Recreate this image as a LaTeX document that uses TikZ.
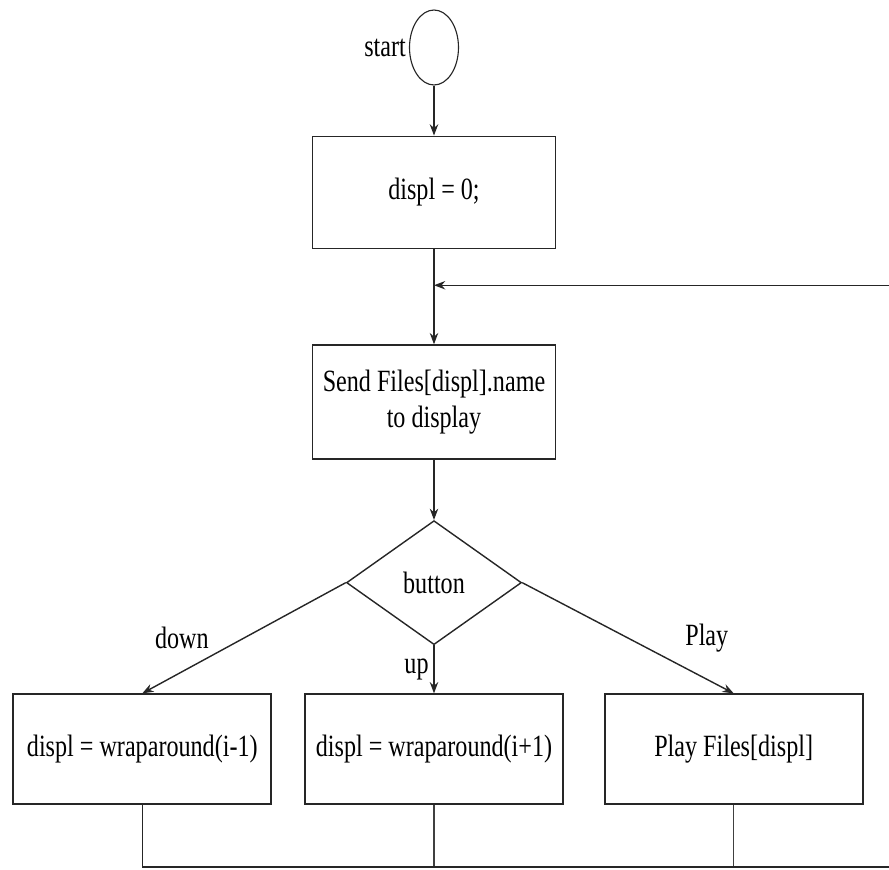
\documentclass[tikz,border=0pt]{standalone}
\usepackage{fontspec}
\setmainfont{Liberation Serif}[FakeStretch=0.78]
\usetikzlibrary{arrows.meta,positioning,shapes.geometric}

\begin{document}
\begin{tikzpicture}[
    node distance=1.5cm,
    font=\fontsize{22}{26}\selectfont,
    terminal/.style={ellipse, draw=black!85, thick, minimum width=1.225cm, minimum height=1.875cm, inner sep=0pt},
    process/.style={rectangle, draw=black!85, line width=1.2pt, minimum width=6.075cm, minimum height=2.8cm, text centered, align=center},
    action/.style={process, minimum width=6.45cm, minimum height=2.75cm},
    decision/.style={diamond, draw=black!85, line width=1pt, minimum width=4.375cm, minimum height=3.1cm, inner sep=0pt},
    arrow/.style={-{Stealth[length=8pt,width=6pt]}, line width=1pt, draw=black!85},
    line/.style={line width=1pt, draw=black!75}
]
    \useasboundingbox (-10.85,-20.5375) rectangle (11.375,1.1875);

    % Main vertical flow
    \node[terminal, label={[inner sep=2pt]left:start}] (start) {};
    \node[process, below=1.25cm of start] (init) {displ = 0;};
    \node[process, minimum height=2.85cm, below=2.375cm of init] (send) {Send Files[displ].name\\to display};
    \node[decision, below=1.5cm of send] (button) {button};

    % Button actions
    \node[action, below=1.2cm of button] (up) {displ = wraparound(i+1)};
    \node[action, left=0.8cm of up] (down) {displ = wraparound(i-1)};
    \node[action, right=1cm of up] (play) {Play Files[displ]};

    % Helper points for the loop
    \coordinate[below=1.55cm of down.south] (join);
    \coordinate[right=2cm of play.east] (edge);
    \coordinate[below=0.9cm of init.south] (reentry);

    % Main flow arrows
    \draw[arrow] (start) -- (init);
    \draw[arrow] (init) -- (send);
    \draw[arrow] (send) -- (button);

    % Decision branches
    \draw[arrow] (button.west) -- node[left=0.75cm] {down} (down.north);
    \draw[arrow] (button.south) -- node[left] {up} (up.north);
    \draw[arrow] (button.east) -- node[right=1.3cm] {Play} (play.north);

    % Loop back
    \draw[line] (up.south) -- (up.south |- join);
    \draw[line] (play.south) -- (play.south |- join);
    \draw[arrow] (down.south) -- (join) -| (edge) |- (reentry);
\end{tikzpicture}
\end{document}
